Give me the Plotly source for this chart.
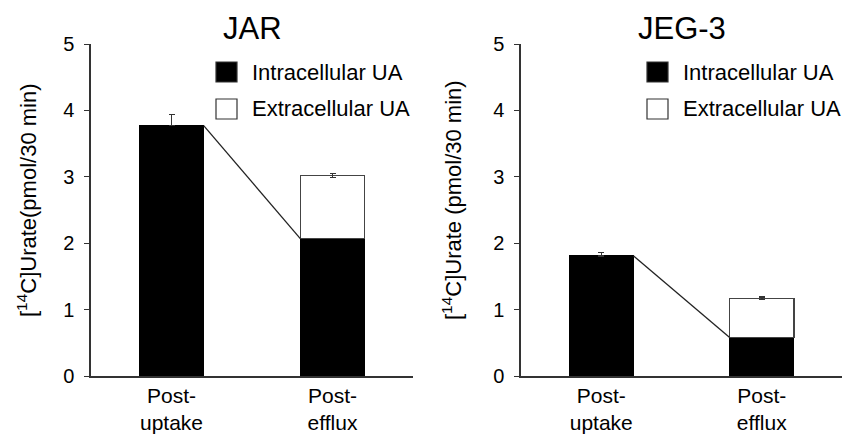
import plotly.graph_objects as go

categories = ["Post-<br>uptake", "Post-<br>efflux"]
panels = ["JAR", "JEG-3"]
ytitles = ["[<sup>14</sup>C]Urate(pmol/30 min)", "[<sup>14</sup>C]Urate (pmol/30 min)"]
series_names = ["Intracellular UA", "Extracellular UA"]

jar_intra = [3.77, 2.07]
jar_intra_err = [0.17, 0.10]
jar_extra = [None, 0.95]
jar_extra_err = [0, 0.03]

jeg_intra = [1.81, 0.58]
jeg_intra_err = [0.05, 0.04]
jeg_extra = [None, 0.59]
jeg_extra_err = [0, 0.02]

yticks = [0, 1, 2, 3, 4, 5]

FONT = "Liberation Sans, Arial, sans-serif"
AX = "#333333"
bar_w = 0.4
xpos = [0, 1]

fig = go.Figure()

data = [
    (jar_intra, jar_intra_err, jar_extra, jar_extra_err),
    (jeg_intra, jeg_intra_err, jeg_extra, jeg_extra_err),
]

for i, (intra, ierr, extra, eerr) in enumerate(data):
    xa = "x" if i == 0 else "x2"
    ya = "y" if i == 0 else "y2"
    fig.add_trace(go.Bar(
        x=xpos, y=intra, width=bar_w, name=series_names[0],
        marker=dict(color="black", line=dict(color="black", width=1)),
        error_y=dict(type="data", array=ierr, arrayminus=[0, 0], symmetric=False,
                     color=AX, thickness=1.5, width=3),
        xaxis=xa, yaxis=ya, showlegend=False, offsetgroup="a",
    ))
    fig.add_trace(go.Bar(
        x=xpos, y=extra, width=bar_w, name=series_names[1],
        marker=dict(color="white", line=dict(color="#444444", width=1.5)),
        error_y=dict(type="data", array=eerr, color=AX, thickness=1.5, width=3),
        xaxis=xa, yaxis=ya, showlegend=False, offsetgroup="a",
    ))
    fig.add_trace(go.Scatter(
        x=[xpos[0] + bar_w / 2, xpos[1] - bar_w / 2], y=[intra[0], intra[1]],
        mode="lines", line=dict(color="#222222", width=1.3),
        showlegend=False, hoverinfo="skip", xaxis=xa, yaxis=ya,
    ))

H = 439
W = 842
ydom = [(439 - 376) / H, (439 - 44) / H]
xdoms = [[91 / W, 413 / W], [521 / W, 1.0]]

layout = dict(
    width=W, height=H, barmode="stack",
    margin=dict(l=0, r=0, t=0, b=0),
    paper_bgcolor="white", plot_bgcolor="white",
    font=dict(family=FONT, color="black", size=18),
    showlegend=False,
)
for i in range(2):
    sfx = "" if i == 0 else "2"
    layout["xaxis" + sfx] = dict(
        domain=xdoms[i], range=[-0.5, 1.5], tickvals=xpos, ticktext=categories,
        showline=True, linecolor=AX, linewidth=1.5, ticks="", showgrid=False,
        zeroline=False, tickfont=dict(size=21, family=FONT), anchor="y" + sfx,
        automargin=False,
    )
    layout["yaxis" + sfx] = dict(
        domain=ydom, range=[0, 5], tickvals=yticks, showline=True, linecolor=AX,
        linewidth=1.5, ticks="outside", ticklen=5, tickcolor=AX, showgrid=False,
        zeroline=False, tickfont=dict(size=20, family=FONT), anchor="x" + sfx,
        automargin=False, ticklabelstandoff=6,
    )
fig.update_layout(**layout)

title_x = [27, 452]
legend_sym_x = [216, 647]
legend_rows_y = [72, 109]
legend_fill = ["black", "white"]
for i, t in enumerate(panels):
    fig.add_annotation(text=t, xref="paper", yref="paper",
                       x=(xdoms[i][0] + xdoms[i][1]) / 2, y=1 - 28 / H,
                       xanchor="center", yanchor="middle", showarrow=False,
                       font=dict(size=31, family=FONT, color="black"))
    fig.add_annotation(text=ytitles[i], xref="paper", yref="paper",
                       x=title_x[i] / W, y=1 - 200 / H, textangle=-90,
                       xanchor="center", yanchor="middle", showarrow=False,
                       font=dict(size=22, family=FONT, color="black"))
    for k in range(2):
        cy = legend_rows_y[k]
        fig.add_shape(type="rect", xref="paper", yref="paper",
                      x0=legend_sym_x[i] / W, x1=(legend_sym_x[i] + 21) / W,
                      y0=1 - (cy - 10) / H, y1=1 - (cy + 10) / H,
                      fillcolor=legend_fill[k], line=dict(color="#333333", width=1.2))
        fig.add_annotation(text=series_names[k], xref="paper", yref="paper",
                           x=(legend_sym_x[i] + 34) / W, y=1 - cy / H,
                           xanchor="left", yanchor="middle", showarrow=False,
                           font=dict(size=22, family=FONT, color="black"))

fig.write_html("out.html", config={"displayModeBar": False},
               post_script="document.body.style.margin='0';document.body.style.overflow='hidden';")
